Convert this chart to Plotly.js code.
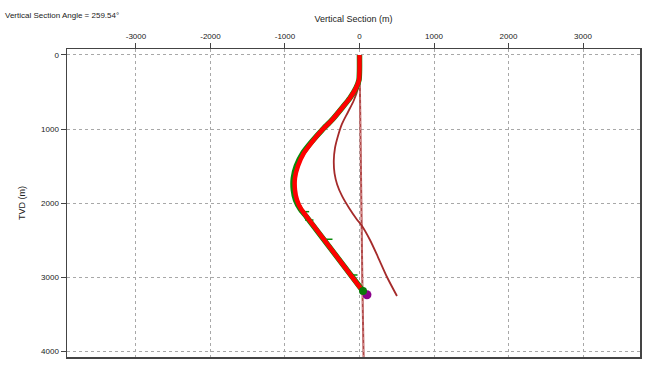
<!DOCTYPE html>
<html>
<head>
<meta charset="utf-8">
<script src="https://cdn.plot.ly/plotly-3.0.1.min.js"></script>
<style>html,body{margin:0;padding:0;background:#fff;}#chart{width:654px;height:366px;}</style>
</head>
<body>
<div id="chart"></div>
<script>
// Actual trajectory (red)
const actualVS  = [0, 0, -7, -47, -128, -235, -369, -503, -638, -745, -826, -866, -866, -839, -785, -705, 34];
const actualTVD = [0, 203, 338, 446, 581, 716, 878, 1014, 1176, 1324, 1500, 1662, 1824, 1959, 2081, 2189, 3176];
// Planned trajectory (green)
const planVS  = [0, 0, -7, -47, -128, -235, -369, -503, -645, -760, -848, -888, -888, -858, -795, -710, 47];
const planTVD = [0, 203, 338, 446, 581, 716, 878, 1014, 1176, 1324, 1500, 1662, 1824, 1959, 2081, 2189, 3189];
// Offset well (dark red)
const offsetVS  = [0, 0, -20, -74, -154, -235, -289, -329, -345, -335, -300, -235, -140, -40, 34, 141, 248, 369, 503];
const offsetTVD = [0, 270, 446, 608, 770, 932, 1095, 1257, 1430, 1600, 1750, 1905, 2068, 2216, 2311, 2500, 2730, 3000, 3257];
// Reference well (near-vertical)
const refVS  = [0, 10, 30, 40, 55];
const refTVD = [0, 1000, 2300, 3200, 4080];
// Plan tick marks (green)
const tickVS  = [-732, -674, -419, -83];
const tickTVD = [2117, 2230, 2490, 2973];
// End points
const planEndVS = [47], planEndTVD = [3189];
const targetVS = [100], targetTVD = [3240];

const xTicks = [-3000, -2000, -1000, 0, 1000, 2000, 3000];
const yTicks = [0, 1000, 2000, 3000, 4000];

const traces = [
  {x: refVS, y: refTVD, mode: 'lines', line: {color: '#b04848', width: 2}, hoverinfo: 'skip'},
  {x: refVS, y: refTVD, mode: 'lines', line: {color: '#d89090', width: 1, dash: 'dot'}, hoverinfo: 'skip'},
  {x: offsetVS, y: offsetTVD, mode: 'lines', line: {color: '#a52a2a', width: 1.8, shape: 'spline', smoothing: 0.8}},
  {x: planVS, y: planTVD, mode: 'lines', line: {color: '#0a8a0a', width: 5.5, shape: 'spline', smoothing: 0.6}},
  {x: tickVS, y: tickTVD, mode: 'markers', marker: {symbol: 'line-ew', size: 6, line: {color: '#0a8a0a', width: 1.5}}},
  {x: actualVS, y: actualTVD, mode: 'lines', line: {color: '#ff0000', width: 4.5, shape: 'spline', smoothing: 0.6}},
  {x: targetVS, y: targetTVD, mode: 'markers', marker: {color: '#8b008b', size: 9}},
  {x: planEndVS, y: planEndTVD, mode: 'markers', marker: {color: '#0a7a0a', size: 8}}
];

const axisCommon = {
  showline: true, mirror: true, linecolor: '#444', linewidth: 1.5,
  showgrid: true, gridcolor: '#a8a8a8', griddash: 'dot', gridwidth: 1,
  zeroline: false, ticks: 'outside', ticklen: 5, tickcolor: '#444',
  tickfont: {size: 8, color: '#222'}
};

const layout = {
  width: 654, height: 366,
  margin: {l: 67, r: 14, t: 49, b: 9},
  paper_bgcolor: '#fff', plot_bgcolor: '#fff',
  font: {family: 'Liberation Sans, Arial, sans-serif', color: '#222'},
  showlegend: false,
  title: {text: 'Vertical Section Angle = 259.54°', font: {size: 8, color: '#222'},
          xref: 'container', yref: 'container', x: 5/654, y: 1 - 15/366, xanchor: 'left', yanchor: 'middle'},
  xaxis: Object.assign({}, axisCommon, {
    side: 'top', range: [-3926, 3765], tickvals: xTicks, ticktext: xTicks.map(String),
    title: {text: 'Vertical Section (m)', font: {size: 9, color: '#222'}, standoff: 8}
  }),
  yaxis: Object.assign({}, axisCommon, {
    range: [4081, -81], tickvals: yTicks, ticktext: yTicks.map(String),
    title: {text: 'TVD (m)', font: {size: 9, color: '#222'}, standoff: 14}
  })
};

Plotly.newPlot('chart', traces, layout, {displayModeBar: false, staticPlot: true});
</script>
</body>
</html>
